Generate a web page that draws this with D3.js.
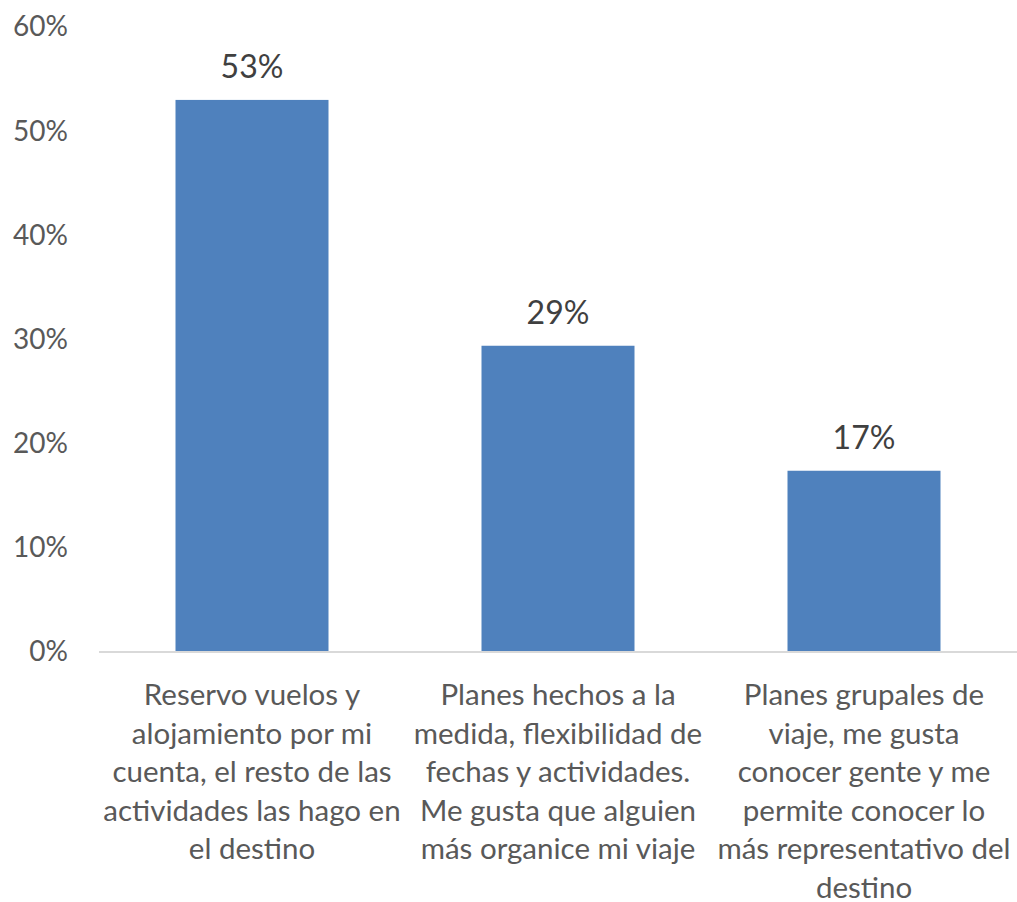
<!DOCTYPE html>
<html>
<head>
<meta charset="utf-8">
<script src="https://cdn.jsdelivr.net/npm/d3@7"></script>
<style>
  html, body { margin: 0; padding: 0; background: #fff; }
  svg { display: block; font-family: Lato, "Noto Sans", sans-serif; }
</style>
</head>
<body>
<svg id="chart" width="1017" height="902"></svg>
<script>
// Travel-planning preference shares
const categories = [
  ["Reservo vuelos y", "alojamiento por mi", "cuenta, el resto de las", "actividades las hago en", "el destino"],
  ["Planes hechos a la", "medida, flexibilidad de", "fechas y actividades.", "Me gusta que alguien", "más organice mi viaje"],
  ["Planes grupales de", "viaje, me gusta", "conocer gente y me", "permite conocer lo", "más representativo del", "destino"]
];
const values = [0.53, 0.294, 0.174];
const yTicks = [0, 0.1, 0.2, 0.3, 0.4, 0.5, 0.6];

const svg = d3.select("#chart");
const plotLeft = 99, plotRight = 1017, plotTop = 27, plotBottom = 652;

const x = d3.scaleBand()
  .domain(d3.range(categories.length))
  .range([plotLeft, plotRight])
  .paddingInner(0.5)
  .paddingOuter(0.25);

const y = d3.scaleLinear().domain([0, 0.6]).range([plotBottom, plotTop]);
const pct = d3.format(".0%");

// y axis labels (no axis line, no gridlines)
const yAxis = d3.axisLeft(y).tickValues(yTicks).tickFormat(pct).tickSize(0).tickPadding(0);
const yg = svg.append("g").attr("transform", "translate(68,0)").call(yAxis);
yg.select(".domain").remove();
yg.selectAll("text")
  .attr("fill", "#595959")
  .attr("font-size", 28)
  .attr("font-family", "Lato, 'Noto Sans', sans-serif");

// bars
svg.append("g").selectAll("rect")
  .data(values)
  .join("rect")
  .attr("x", (d, i) => x(i))
  .attr("width", x.bandwidth())
  .attr("y", d => y(d))
  .attr("height", d => y(0) - y(d))
  .attr("fill", "#4F81BD");

// baseline
svg.append("line")
  .attr("x1", plotLeft).attr("x2", plotRight)
  .attr("y1", y(0)).attr("y2", y(0))
  .attr("stroke", "#d9d9d9").attr("stroke-width", 2);

// value labels
svg.append("g").selectAll("text")
  .data(values)
  .join("text")
  .attr("x", (d, i) => x(i) + x.bandwidth() / 2)
  .attr("y", d => y(d) - 33)
  .attr("dy", "0.35em")
  .attr("text-anchor", "middle")
  .attr("font-size", 32)
  .attr("fill", "#404040")
  .text(d => pct(d));

// category labels
const cat = svg.append("g").selectAll("text")
  .data(categories)
  .join("text")
  .attr("text-anchor", "middle")
  .attr("font-size", 29.5)
  .attr("fill", "#595959");
cat.selectAll("tspan")
  .data((lines, i) => lines.map(l => ({ l, i })))
  .join("tspan")
  .attr("x", d => x(d.i) + x.bandwidth() / 2)
  .attr("y", (d, j) => 695 + j * 38.5)
  .attr("dy", "0.35em")
  .text(d => d.l);
</script>
</body>
</html>
